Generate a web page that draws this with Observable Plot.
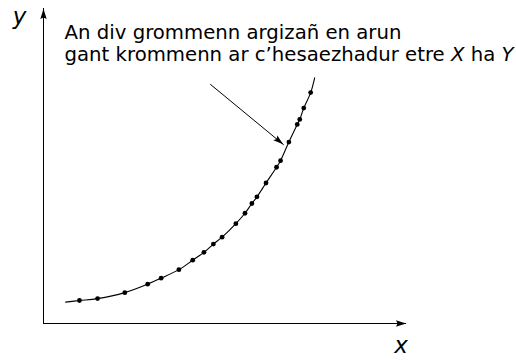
<!DOCTYPE html>
<html>
<head>
<meta charset="utf-8">
<script src="https://cdn.jsdelivr.net/npm/d3@7"></script>
<script src="https://cdn.jsdelivr.net/npm/@observablehq/plot@0.6"></script>
<style>
  html, body { margin: 0; padding: 0; background: #fff; }
  #chart svg { display: block; }
</style>
</head>
<body>
<div id="chart"></div>
<script>
// Measured samples along the curve
const sampleX = [0.99, 1.49, 2.24, 2.87, 3.24, 3.73, 4.11, 4.42, 4.68, 4.92, 5.30,
                 5.55, 5.74, 5.88, 6.13, 6.42, 6.53, 6.76, 6.99, 7.06, 7.17, 7.36];
const sampleY = [0.73, 0.79, 0.98, 1.25, 1.44, 1.71, 2.01, 2.26, 2.52, 2.74, 3.17,
                 3.50, 3.81, 4.02, 4.46, 4.96, 5.17, 5.76, 6.32, 6.48, 6.84, 7.33];
// Where the drawn curve begins and ends
const curveStart = [0.61, 0.68];
const curveEnd = [7.47, 7.80];

// Annotation
const noteLines = ["An div grommenn argizañ en arun",
                   "gant krommenn ar c’hesaezhadur etre X ha Y"];
const axisLabels = ["x", "y"];

const W = 516, H = 360;
const M = {left: 43, right: 110, top: 8, bottom: 37};
const xDomain = [0, 10], yDomain = [0, 10];
const kx = (W - M.left - M.right) / (xDomain[1] - xDomain[0]);
const ky = (H - M.top - M.bottom) / (yDomain[1] - yDomain[0]);

const samples = sampleX.map((x, i) => ({x, y: sampleY[i]}));
const curve = [{x: curveStart[0], y: curveStart[1]}, ...samples, {x: curveEnd[0], y: curveEnd[1]}];

// Pointer from the note to the curve
const pointer = [{x: 4.60, y: 7.59}, {x: 6.61, y: 5.68}];
const pointerAngle = Math.atan2(-(pointer[1].y - pointer[0].y) * ky,
                                (pointer[1].x - pointer[0].x) * kx) * 180 / Math.PI;

// Filled arrowhead symbol, tip at the anchor point, pointing along angleDeg
function arrowhead(angleDeg, len = 10.5, half = 3.2) {
  const a = angleDeg * Math.PI / 180, c = Math.cos(a), s = Math.sin(a);
  const p = (u, v) => [u * c - v * s, u * s + v * c];
  return {
    draw(ctx) {
      ctx.moveTo(...p(0, 0));
      ctx.quadraticCurveTo(...p(-len * 0.5, -half * 0.45), ...p(-len, -half));
      ctx.lineTo(...p(-len * 0.85, 0));
      ctx.lineTo(...p(-len, half));
      ctx.quadraticCurveTo(...p(-len * 0.5, half * 0.45), ...p(0, 0));
      ctx.closePath();
    }
  };
}

const font = "DejaVu Sans";

const plot = Plot.plot({
  width: W,
  height: H,
  marginLeft: M.left,
  marginRight: M.right,
  marginTop: M.top,
  marginBottom: M.bottom,
  x: {domain: xDomain, axis: null},
  y: {domain: yDomain, axis: null},
  style: {background: "#fff", fontFamily: font, overflow: "visible"},
  marks: [
    // axes
    Plot.ruleY([0], {x1: xDomain[0], x2: xDomain[1], stroke: "#000", strokeWidth: 1}),
    Plot.ruleX([0], {y1: yDomain[0], y2: yDomain[1], stroke: "#000", strokeWidth: 1}),
    Plot.dot([{x: xDomain[1], y: 0}], {x: "x", y: "y", symbol: arrowhead(0), fill: "#000", stroke: "none"}),
    Plot.dot([{x: 0, y: yDomain[1]}], {x: "x", y: "y", symbol: arrowhead(-90), fill: "#000", stroke: "none"}),
    // curve and samples
    Plot.line(curve, {x: "x", y: "y", curve: "catmull-rom", stroke: "#000", strokeWidth: 1.1}),
    Plot.dot(samples, {x: "x", y: "y", r: 2.4, fill: "#000", stroke: "none"}),
    // pointer
    Plot.line(pointer, {x: "x", y: "y", stroke: "#000", strokeWidth: 1}),
    Plot.dot([pointer[1]], {x: "x", y: "y", symbol: arrowhead(pointerAngle), fill: "#000", stroke: "none"}),
    // note
    Plot.text([noteLines[0]], {x: 0.58, y: 9.02, text: d => d, textAnchor: "start", lineAnchor: "bottom",
      fontSize: 19.7, fontFamily: font, fill: "#000"}),
    Plot.text([noteLines[1]], {x: 0.58, y: 8.32, text: d => d, textAnchor: "start", lineAnchor: "bottom",
      fontSize: 19.7, fontFamily: font, fill: "#000"}),
    // axis labels
    Plot.text([axisLabels[0]], {x: 9.85, y: -0.95, text: d => d, textAnchor: "middle", lineAnchor: "bottom",
      fontSize: 23, fontStyle: "italic", fontFamily: font, fill: "#000"}),
    Plot.text([axisLabels[1]], {x: -0.66, y: 9.5, text: d => d, textAnchor: "middle", lineAnchor: "bottom",
      fontSize: 23, fontStyle: "italic", fontFamily: font, fill: "#000"})
  ]
});

// Set the math variables X and Y in italics
const SVGNS = "http://www.w3.org/2000/svg";
for (const t of plot.querySelectorAll("text")) {
  const s = t.textContent;
  if (!noteLines.includes(s) || !/\b[XY]\b/.test(s)) continue;
  t.textContent = "";
  for (const part of s.split(/\b([XY])\b/)) {
    if (!part) continue;
    const span = document.createElementNS(SVGNS, "tspan");
    if (/^[XY]$/.test(part)) span.setAttribute("font-style", "italic");
    span.textContent = part;
    t.appendChild(span);
  }
}

document.getElementById("chart").appendChild(plot);
</script>
</body>
</html>
